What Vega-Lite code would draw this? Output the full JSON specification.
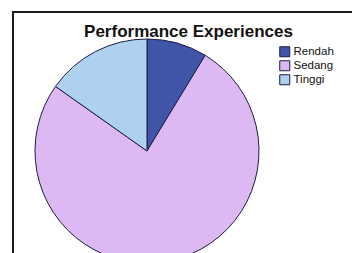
{
  "$schema": "https://vega.github.io/schema/vega-lite/v6.json",
  "width": 341,
  "height": 243,
  "autosize": {"type": "none"},
  "padding": {"left": 13, "top": 12, "right": -2, "bottom": -2},
  "background": "white",
  "config": {
    "view": {"stroke": "#1a1a1a", "strokeWidth": 2},
    "font": "Liberation Sans"
  },
  "title": {
    "text": "Performance Experiences",
    "font": "Liberation Sans",
    "fontSize": 17,
    "fontWeight": "bold",
    "color": "#111111",
    "anchor": "middle",
    "baseline": "alphabetic",
    "offset": -42,
    "dx": 5
  },
  "data": {
    "values": [
      {"level": "Rendah", "count": 4},
      {"level": "Sedang", "count": 35},
      {"level": "Tinggi", "count": 7}
    ]
  },
  "mark": {"type": "arc", "outerRadius": 112, "stroke": "#1c1c44", "strokeWidth": 1},
  "encoding": {
    "theta": {"field": "count", "type": "quantitative", "stack": true},
    "x": {"datum": 134, "type": "quantitative", "scale": {"domain": [0, 341], "nice": false, "zero": false}, "axis": null},
    "y": {"datum": 139, "type": "quantitative", "scale": {"domain": [0, 243], "range": [0, 243], "nice": false, "zero": false}, "axis": null},
    "color": {
      "field": "level",
      "type": "nominal",
      "scale": {"domain": ["Rendah", "Sedang", "Tinggi"], "range": ["#4054a8", "#dcb9f2", "#add1ee"]},
      "legend": {
        "title": null,
        "orient": "none",
        "legendX": 266,
        "legendY": 34,
        "padding": 0,
        "symbolType": "square",
        "symbolSize": 100,
        "symbolStrokeColor": "#1c1c44",
        "symbolStrokeWidth": 1,
        "symbolOpacity": 1,
        "labelFont": "Liberation Sans",
        "labelFontSize": 11.5,
        "labelColor": "#111111",
        "labelOffset": 3,
        "rowPadding": -1
      }
    }
  }
}
